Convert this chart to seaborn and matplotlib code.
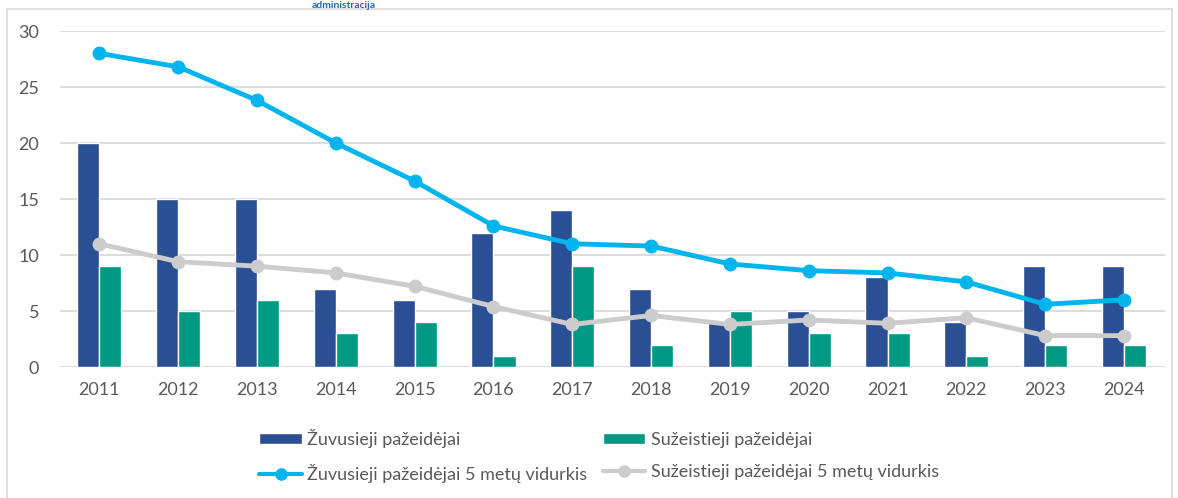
import matplotlib
matplotlib.use("Agg")
import matplotlib.pyplot as plt
import seaborn as sns
import pandas as pd
import numpy as np
from matplotlib.lines import Line2D
from matplotlib.patches import Patch, Rectangle

years = ["2011", "2012", "2013", "2014", "2015", "2016", "2017",
         "2018", "2019", "2020", "2021", "2022", "2023", "2024"]
killed = [20, 15, 15, 7, 6, 12, 14, 7, 4, 5, 8, 4, 9, 9]
injured = [9, 5, 6, 3, 4, 1, 9, 2, 5, 3, 3, 1, 2, 2]
killed_avg = [28, 26.8, 23.8, 20, 16.6, 12.6, 11, 10.8, 9.2, 8.6, 8.4, 7.6, 5.6, 6.0]
injured_avg = [11, 9.4, 9.0, 8.4, 7.2, 5.4, 3.8, 4.6, 3.8, 4.2, 3.9, 4.4, 2.8, 2.8]

s_killed = "Žuvusieji pažeidėjai"
s_injured = "Sužeistieji pažeidėjai"
s_killed_avg = "Žuvusieji pažeidėjai 5 metų vidurkis"
s_injured_avg = "Sužeistieji pažeidėjai 5 metų vidurkis"

c_killed = "#2B4F94"
c_injured = "#009A84"
c_killed_avg = "#00B5EE"
c_injured_avg = "#CCCCCC"
txt = "#595959"

sns.set_theme(style="white")
plt.rcParams["font.family"] = ["Lato", "DejaVu Sans"]

df = pd.DataFrame({
    "year": years * 2,
    "value": killed + injured,
    "series": [s_killed] * len(years) + [s_injured] * len(years),
})

fig = plt.figure(figsize=(11.78, 4.98), dpi=100)
ax = fig.add_axes([60 / 1178, 1 - 367 / 498, (1165 - 60) / 1178, (367 - 31) / 498])

sns.barplot(data=df, x="year", y="value", hue="series",
            palette=[c_killed, c_injured], width=0.56, saturation=1,
            ax=ax, legend=False, zorder=2)

xs = np.arange(len(years))
ax.plot(xs, killed_avg, color=c_killed_avg, lw=3.5, marker="o", ms=9, zorder=4,
        solid_capstyle="round")
ax.plot(xs, injured_avg, color=c_injured_avg, lw=3.5, marker="o", ms=9, zorder=3,
        solid_capstyle="round")

ax.set_ylim(0, 30)
ax.set_yticks([0, 5, 10, 15, 20, 25, 30])
ax.set_xlim(-0.5, len(years) - 0.5 + 0.02)
ax.set_xlabel("")
ax.set_ylabel("")
for s in ax.spines.values():
    s.set_visible(False)
ax.yaxis.grid(True, color="#D9D9D9", lw=1.3, zorder=0)
ax.set_axisbelow(True)
ax.tick_params(axis="both", length=0, labelsize=13, colors=txt)
ax.tick_params(axis="y", pad=15)
ax.tick_params(axis="x", pad=11)

handles = [
    Patch(facecolor=c_killed, label=s_killed),
    Line2D([0], [0], color=c_killed_avg, lw=3, marker="o", ms=8, label=s_killed_avg),
    Patch(facecolor=c_injured, label=s_injured),
    Line2D([0], [0], color=c_injured_avg, lw=3, marker="o", ms=8, label=s_injured_avg),
]
leg = fig.legend(handles=handles, ncol=2, loc="center left",
                 bbox_to_anchor=(243 / 1178, 1 - 456 / 498), frameon=False,
                 fontsize=13.0, labelcolor=txt, handlelength=2.36, handleheight=0.55,
                 handletextpad=0.3, columnspacing=0.85, labelspacing=0.85)

# outer frame
fig.patches.append(Rectangle((7 / 1178, -0.05), (1172 - 7) / 1178, 1.05 - 9 / 498,
                             transform=fig.transFigure, fill=False,
                             edgecolor="#D9D9D9", lw=1.2))
# logo text at top
fig.text(312 / 1178, 1 - 0.5 / 498, "administracija", color="#1C6BB5",
         fontsize=7.5, fontweight="bold", va="top", ha="left")

fig.savefig("out.png", dpi=100)
